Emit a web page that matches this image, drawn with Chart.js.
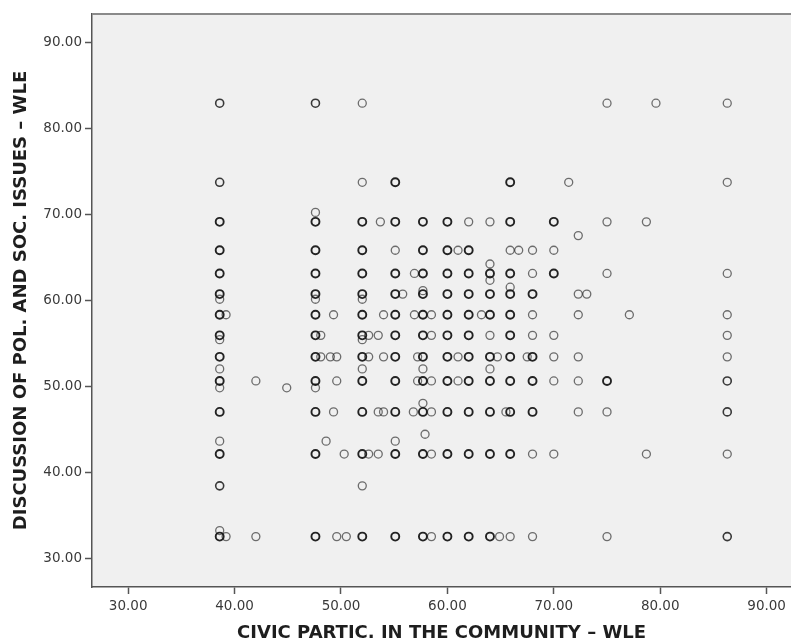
<!DOCTYPE html>
<html>
<head>
<meta charset="utf-8">
<script src="https://cdn.jsdelivr.net/npm/chart.js@4/dist/chart.umd.min.js"></script>
<style>
    html, body { margin: 0; padding: 0; background: #ffffff; overflow: hidden; }
    /* a few px wider than the window: Chart.js keeps room for the rings on the right, the plot runs to the edge */
    #scatter { display: block; }
</style>
</head>
<body>
<canvas id="scatter" width="797" height="644"></canvas>
<script>
// Axis titles and ticks
const xTitle = 'CIVIC PARTIC. IN THE COMMUNITY \u2013 WLE';
const yTitle = 'DISCUSSION OF POL. AND SOC. ISSUES \u2013 WLE';
const xTicks = [30, 40, 50, 60, 70, 80, 90];
const yTicks = [30, 40, 50, 60, 70, 80, 90];

// Main columns of civic participation scores
const civicLevels = [38.6, 47.6, 52.0, 55.1, 57.7, 60.0, 62.0, 64.0, 65.9, 68.0, 70.0, 72.3, 75.0, 86.3];

// Discussion scores found in each column
const discussionByLevel = [
    [83.0, 73.8, 69.2, 65.9, 63.2, 60.8, 60.2, 58.4, 56.0, 55.5, 53.5, 52.1, 50.7, 49.9, 47.1, 43.7, 42.2, 38.5, 33.3, 32.6],
    [83.0, 70.3, 69.2, 65.9, 63.2, 60.8, 60.2, 58.4, 56.0, 53.5, 50.7, 49.9, 47.1, 42.2, 32.6],
    [83.0, 73.8, 69.2, 65.9, 63.2, 60.8, 60.2, 58.4, 56.0, 55.5, 53.5, 52.1, 50.7, 47.1, 42.2, 38.5, 32.6],
    [73.8, 69.2, 65.9, 63.2, 60.8, 58.4, 56.0, 53.5, 50.7, 47.1, 43.7, 42.2, 32.6],
    [69.2, 65.9, 63.2, 61.2, 60.8, 58.4, 56.0, 53.5, 52.1, 50.7, 48.1, 47.1, 42.2, 32.6],
    [69.2, 65.9, 63.2, 60.8, 58.4, 56.0, 53.5, 50.7, 47.1, 42.2, 32.6],
    [69.2, 65.9, 63.2, 60.8, 58.4, 56.0, 53.5, 50.7, 47.1, 42.2, 32.6],
    [69.2, 64.3, 63.2, 62.4, 60.8, 58.4, 56.0, 53.5, 52.1, 50.7, 47.1, 42.2, 32.6],
    [73.8, 69.2, 65.9, 63.2, 61.6, 60.8, 58.4, 56.0, 53.5, 50.7, 47.1, 42.2, 32.6],
    [65.9, 63.2, 60.8, 58.4, 56.0, 53.5, 50.7, 47.1, 42.2, 32.6],
    [69.2, 65.9, 63.2, 56.0, 53.5, 50.7, 42.2],
    [67.6, 60.8, 58.4, 53.5, 50.7, 47.1],
    [83.0, 69.2, 63.2, 50.7, 47.1, 32.6],
    [83.0, 73.8, 63.2, 58.4, 56.0, 53.5, 50.7, 47.1, 42.2, 32.6]
];

// How many cases sit on top of each other (darker rings)
const overlapByLevel = [
    [2, 2, 3, 3, 3, 3, 1, 3, 3, 1, 3, 1, 3, 1, 3, 1, 3, 2, 1, 3],
    [2, 1, 3, 3, 3, 3, 1, 3, 3, 3, 3, 1, 3, 3, 3],
    [1, 1, 3, 3, 3, 3, 1, 3, 3, 1, 3, 1, 3, 3, 3, 1, 3],
    [3, 3, 1, 3, 3, 3, 3, 3, 3, 3, 1, 3, 3],
    [3, 3, 3, 1, 3, 3, 3, 3, 1, 3, 1, 3, 3, 3],
    [3, 3, 3, 3, 3, 3, 3, 3, 3, 3, 3],
    [1, 3, 3, 3, 3, 3, 3, 3, 3, 3, 3],
    [1, 1, 3, 1, 3, 3, 1, 3, 1, 3, 3, 3, 3],
    [3, 3, 1, 3, 1, 3, 3, 3, 3, 3, 3, 3, 1],
    [1, 1, 3, 1, 1, 3, 3, 3, 1, 1],
    [3, 1, 3, 1, 1, 1, 1],
    [1, 1, 1, 1, 1, 1],
    [1, 1, 1, 3, 1, 1],
    [1, 1, 1, 1, 1, 1, 2, 2, 1, 2]
];

// Single cases off the main columns
const extraCivic = [39.2, 39.2, 42.0, 42.0, 44.9, 48.1, 48.1, 49.0, 49.6, 49.3, 49.6, 49.3, 48.6, 50.3, 49.6, 50.5,
    53.7, 54.0, 52.6, 53.5, 52.6, 54.0, 53.5, 54.0, 52.6, 53.5, 55.8, 56.9, 56.9, 58.5, 58.5, 57.2, 57.2, 58.5,
    56.8, 58.5, 57.9, 58.5, 58.5, 61.0, 61.0, 61.0, 63.2, 64.7, 64.9, 66.7, 67.5, 65.5, 73.1, 71.4, 79.6, 78.7, 77.1, 78.7];
const extraDiscussion = [58.4, 32.6, 50.7, 32.6, 49.9, 56.0, 53.5, 53.5, 53.5, 58.4, 50.7, 47.1, 43.7, 42.2, 32.6, 32.6,
    69.2, 58.4, 56.0, 56.0, 53.5, 53.5, 47.1, 47.1, 42.2, 42.2, 60.8, 63.2, 58.4, 58.4, 56.0, 53.5, 50.7, 50.7,
    47.1, 47.1, 44.5, 42.2, 32.6, 65.9, 53.5, 50.7, 58.4, 53.5, 32.6, 65.9, 53.5, 47.1, 60.8, 73.8, 83.0, 69.2, 58.4, 42.2];

// Build point list
const points = [];
civicLevels.forEach((x, i) => {
    discussionByLevel[i].forEach((y, j) => {
        points.push({ x: x, y: y, n: overlapByLevel[i][j] });
    });
});
extraCivic.forEach((x, i) => {
    points.push({ x: x, y: extraDiscussion[i], n: 1 });
});

// Stacked rings get darker, like several transparent circles on top of each other
function ringColor(n) {
    const a = 1 - Math.pow(0.4, n || 1);
    return 'rgba(20, 20, 20, ' + a.toFixed(3) + ')';
}

// Grey plot area and the thin top frame line
const plotBackground = {
    id: 'plotBackground',
    beforeDraw(chart) {
        const { ctx, chartArea } = chart;
        ctx.save();
        ctx.fillStyle = '#f0f0f0';
        ctx.fillRect(chartArea.left, chartArea.top, chartArea.right - chartArea.left, chartArea.bottom - chartArea.top);
        ctx.restore();
    },
    afterDraw(chart) {
        const { ctx, chartArea } = chart;
        ctx.save();
        ctx.strokeStyle = '#8a8a8a';
        ctx.lineWidth = 2;
        ctx.beginPath();
        ctx.moveTo(chartArea.left, chartArea.top);
        ctx.lineTo(chartArea.right, chartArea.top);
        ctx.stroke();
        ctx.restore();
    }
};

const tickFont = { family: "'DejaVu Sans', sans-serif", size: 13.5 };
const titleFont = { family: "'DejaVu Sans', sans-serif", size: 18, weight: 'bold' };

new Chart(document.getElementById('scatter'), {
    type: 'scatter',
    data: {
        datasets: [{
            data: points,
            pointStyle: 'circle',
            pointRadius: 4,
            pointHoverRadius: 4,
            backgroundColor: 'rgba(0,0,0,0)',
            borderColor: ctx => ringColor(ctx.raw && ctx.raw.n),
            borderWidth: ctx => 1.3 + 0.3 * (((ctx.raw && ctx.raw.n) || 1) - 1)
        }]
    },
    options: {
        responsive: false,
        animation: false,
        devicePixelRatio: 1,
        layout: { padding: { top: 14, right: 0, bottom: 0, left: 0 } },
        plugins: {
            legend: { display: false },
            tooltip: { enabled: false }
        },
        scales: {
            x: {
                type: 'linear',
                min: 26.6,
                max: 92.3,
                afterFit: scale => {
                    scale.height = 57;
                    scale.paddingLeft = 0;
                    scale.paddingRight = 0;
                },
                afterBuildTicks: axis => { axis.ticks = xTicks.map(v => ({ value: v })); },
                border: { display: true, color: '#555555', width: 1.5 },
                grid: { drawOnChartArea: false, drawTicks: true, tickLength: 7, tickColor: '#555555', tickWidth: 1.5 },
                ticks: {
                    color: '#3a3a3a',
                    font: tickFont,
                    padding: 4,
                    maxRotation: 0,
                    callback: value => Number(value).toFixed(2)
                },
                title: {
                    display: true,
                    text: xTitle,
                    color: '#1e1e1e',
                    font: titleFont,
                    padding: { top: 0, bottom: 0 }
                }
            },
            y: {
                type: 'linear',
                min: 26.74,
                max: 93.37,
                afterFit: scale => {
                    scale.width = 92;
                    scale.paddingTop = 0;
                    scale.paddingBottom = 0;
                },
                afterBuildTicks: axis => { axis.ticks = yTicks.map(v => ({ value: v })); },
                border: { display: true, color: '#555555', width: 1.5 },
                grid: { drawOnChartArea: false, drawTicks: true, tickLength: 7, tickColor: '#555555', tickWidth: 1.5 },
                ticks: {
                    color: '#3a3a3a',
                    font: tickFont,
                    padding: 3,
                    callback: value => Number(value).toFixed(2)
                },
                title: {
                    display: true,
                    text: yTitle,
                    color: '#1e1e1e',
                    font: titleFont,
                    padding: { top: 11, bottom: 0 }
                }
            }
        }
    },
    plugins: [plotBackground]
});
</script>
</body>
</html>
